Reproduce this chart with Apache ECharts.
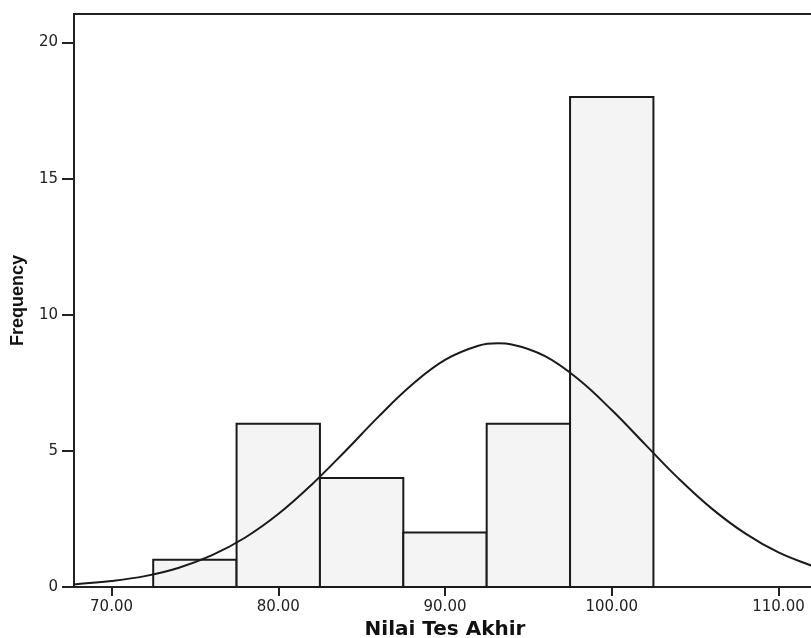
<!DOCTYPE html>
<html>
<head>
<meta charset="utf-8">
<script src="https://cdn.jsdelivr.net/npm/echarts@6/dist/echarts.min.js"></script>
<style>
html,body{margin:0;padding:0;background:#fff;}
#c{width:811px;height:638px;}
</style>
</head>
<body>
<div id="c"></div>
<script>
var binStart = [72.5, 77.5, 82.5, 87.5, 92.5, 97.5];
var binEnd   = [77.5, 82.5, 87.5, 92.5, 97.5, 102.5];
var frequency = [1, 6, 4, 2, 6, 18];

var curveX = [67.75, 68, 70, 72, 74, 76, 78, 80, 82, 84, 86, 88, 90, 92, 93.2, 94, 96, 98, 100, 102, 104, 106, 108, 110, 112, 112.25];
var curveY = [0.10, 0.11, 0.22, 0.40, 0.70, 1.16, 1.81, 2.68, 3.76, 4.98, 6.25, 7.42, 8.34, 8.86, 8.95, 8.91, 8.48, 7.63, 6.50, 5.24, 3.99, 2.88, 1.97, 1.27, 0.78, 0.73];

var xTicks = [70, 80, 90, 100, 110];
var yTicks = [0, 5, 10, 15, 20];

var barData = binStart.map(function (s, i) { return [s, binEnd[i], frequency[i]]; });
var curveData = curveX.map(function (x, i) { return [x, curveY[i]]; });

var chart = echarts.init(document.getElementById('c'));
chart.setOption({
  animation: false,
  backgroundColor: '#ffffff',
  grid: {
    left: 74, right: -5, top: 14, bottom: 51,
    outerBoundsMode: 'none',
    containLabel: false,
    show: true, borderColor: '#222', borderWidth: 2, backgroundColor: 'transparent'
  },
  xAxis: {
    type: 'value',
    min: 67.75, max: 112.25,
    interval: 10,
    name: 'Nilai Tes Akhir',
    nameLocation: 'middle',
    nameGap: 32,
    nameTextStyle: { fontFamily: 'DejaVu Sans', fontWeight: 'bold', fontSize: 20, color: '#111' },
    axisLine: { show: true, lineStyle: { color: '#222', width: 2 } },
    axisTick: { show: true, length: 9, lineStyle: { color: '#222', width: 2 }, customValues: xTicks },
    axisLabel: {
      fontFamily: 'DejaVu Sans', fontSize: 15, color: '#222', margin: 13,
      customValues: xTicks,
      formatter: function (v) { return v.toFixed(2); }
    },
    splitLine: { show: false }
  },
  yAxis: {
    type: 'value',
    min: 0, max: 21.05,
    interval: 5,
    name: 'Frequency',
    nameLocation: 'middle',
    nameGap: 47,
    nameTextStyle: { fontFamily: 'Liberation Sans', fontWeight: 'bold', fontSize: 18, color: '#111' },
    axisLine: { show: true, lineStyle: { color: '#222', width: 2 } },
    axisTick: { show: true, length: 12, lineStyle: { color: '#222', width: 2 }, customValues: yTicks },
    axisLabel: { fontFamily: 'DejaVu Sans', fontSize: 15, color: '#222', margin: 16, customValues: yTicks },
    splitLine: { show: false }
  },
  series: [
    {
      type: 'custom',
      data: barData,
      encode: { x: [0, 1], y: 2 },
      renderItem: function (params, api) {
        var p0 = api.coord([api.value(0), api.value(2)]);
        var p1 = api.coord([api.value(1), 0]);
        return {
          type: 'rect',
          shape: { x: p0[0], y: p0[1], width: p1[0] - p0[0], height: p1[1] - p0[1] },
          style: { fill: '#f4f4f4', stroke: '#1a1a1a', lineWidth: 2 }
        };
      },
      z: 2
    },
    {
      type: 'line',
      data: curveData,
      smooth: 0.4,
      showSymbol: false,
      symbol: 'none',
      lineStyle: { color: '#1a1a1a', width: 2 },
      z: 3
    }
  ]
});
</script>
</body>
</html>
